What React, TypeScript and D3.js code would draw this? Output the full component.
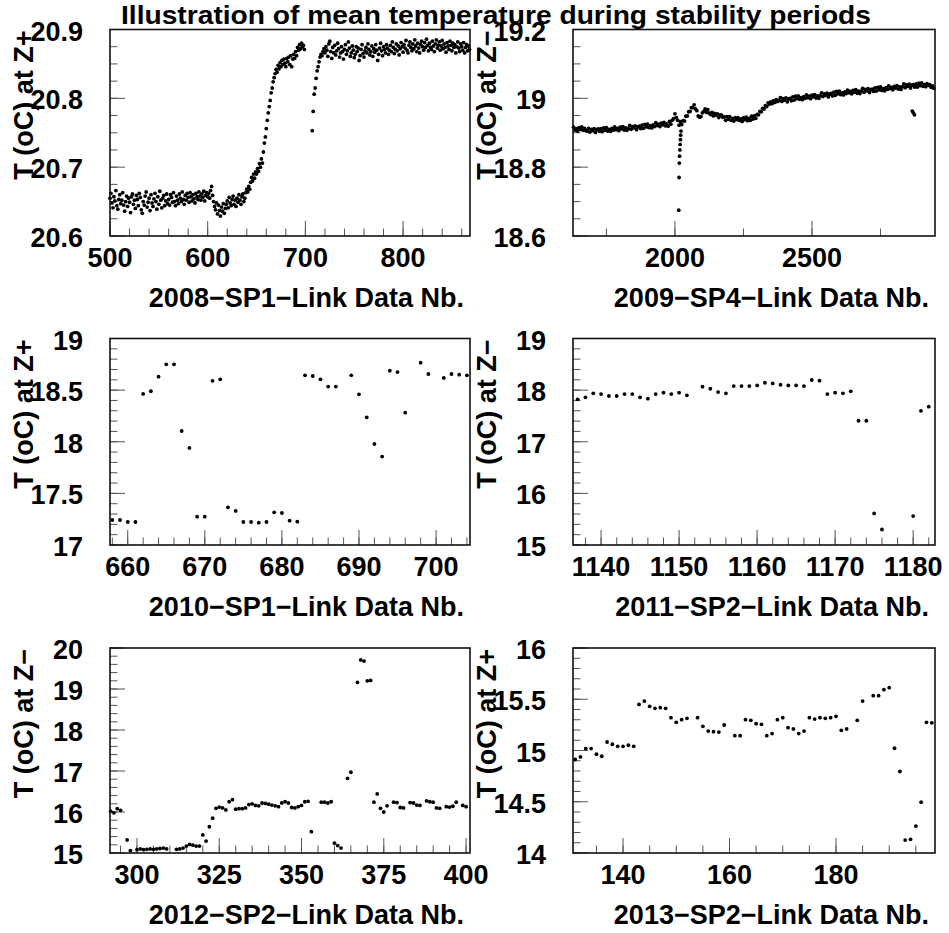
import React from 'react';
import * as d3 from 'd3';

const FONT = '"Liberation Sans", Arial, Helvetica, sans-serif';

// 2008 SP1, Z+ : one reading per link data number from 500 (null = no reading)
const sp2008Start = 500;
const sp2008Temp = [
  20.655, 20.662, 20.648, 20.641, 20.657, 20.651, 20.666, 20.644, 20.639, 20.653,
  20.660, 20.647, 20.652, 20.663, 20.645, 20.636, 20.650, 20.658, 20.643, 20.655,
  20.649, 20.634, 20.657, 20.661, 20.646, 20.652, 20.640, 20.659, 20.653, 20.644,
  20.662, 20.656, 20.638, 20.633, 20.650, 20.645, 20.658, 20.664, 20.642, 20.649,
  20.655, 20.637, 20.660, 20.648, 20.643, 20.654, 20.662, 20.650, 20.639, 20.657,
  20.646, 20.665, 20.652, 20.641, 20.655, 20.659, 20.644, 20.651, 20.661, 20.647,
  20.653, 20.645, 20.660, 20.656, 20.649, 20.663, 20.650, 20.644, 20.658, 20.652,
  20.647, 20.661, 20.655, 20.650, 20.664, 20.653, 20.646, 20.659, 20.652, 20.662,
  20.656, 20.649, 20.663, 20.657, 20.651, 20.660, 20.654, 20.648, 20.662, 20.657,
  20.653, 20.664, 20.658, 20.652, 20.661, 20.656, 20.665, 20.651, 20.659, 20.663,
  20.657, 20.662, 20.655, 20.666, 20.672, 20.659, 20.650, 20.643, 20.638, 20.648,
  20.632, 20.645, 20.637, 20.629, 20.642, 20.636, 20.647, 20.633, 20.640, 20.646,
  20.651, 20.641, 20.656, 20.648, 20.644, 20.653, 20.658, 20.646, 20.652, 20.643,
  20.655, 20.649, 20.660, 20.652, 20.646, 20.657, 20.661, 20.650, 20.655, 20.663,
  20.668, 20.664, 20.672, 20.668, 20.678, 20.685, 20.680, 20.690, 20.684, 20.693,
  20.690, 20.698, 20.694, 20.705, 20.700, 20.712, 20.706, 20.722, 20.735, 20.744,
  20.756, 20.768, 20.779, 20.788, 20.797, 20.808, 20.815, 20.824, 20.830, 20.836,
  20.842, 20.838, 20.848, 20.843, 20.852, 20.846, 20.855, 20.849, 20.857, 20.851,
  20.846, 20.858, 20.853, 20.860, 20.849, 20.862, 20.846, 20.857, 20.864, 20.858,
  20.868, 20.862, 20.874, 20.870, 20.878, 20.872, 20.880, 20.875, 20.877, 20.871,
  null, null, null, null, null, null, null,
  20.753, 20.781, 20.806, 20.815, 20.829, 20.840, 20.846, 20.853, 20.860, 20.864,
  20.862, 20.868, 20.872, 20.866, 20.875, 20.870, 20.861, 20.879, 20.883, 20.868,
  20.858, 20.874, 20.866, 20.877, 20.863, 20.869, 20.880, 20.872, 20.860, 20.866,
  20.875, 20.868, 20.857, 20.871, 20.878, 20.864, 20.869, 20.882, 20.873, 20.861,
  20.866, 20.876, 20.870, 20.859, 20.864, 20.875, 20.868, 20.873, 20.855, 20.862,
  20.871, 20.878, 20.865, 20.860, 20.869, 20.874, 20.866, 20.879, 20.871, 20.863,
  20.868, 20.876, 20.861, 20.872, 20.867, 20.878, 20.870, 20.855, 20.864, 20.873,
  20.880, 20.869, 20.862, 20.875, 20.871, 20.866, 20.878, 20.873, 20.864, 20.870,
  20.877, 20.868, 20.882, 20.874, 20.865, 20.871, 20.879, 20.869, 20.876, 20.863,
  20.872, 20.881, 20.875, 20.867, 20.878, 20.873, 20.884, 20.870, 20.866, 20.877,
  20.882, 20.874, 20.869, 20.879, 20.872, 20.885, 20.876, 20.868, 20.880, 20.873,
  20.866, 20.878, 20.883, 20.875, 20.870, 20.881, 20.874, 20.886, 20.877, 20.869,
  20.880, 20.874, 20.871, 20.883, 20.876, 20.868, 20.879, 20.885, 20.873, 20.877,
  20.882, 20.870, 20.876, 20.884, 20.872, 20.879, 20.874, 20.867, 20.881, 20.876,
  20.871, 20.883, 20.877, 20.869, 20.880, 20.874, 20.878, 20.866, 20.875, 20.882,
  20.873, 20.868, 20.879, 20.875, 20.870, 20.881, 20.866, 20.874, 20.878, 20.869,
  20.876, 20.871,
];

// 2009 SP4, Z- : readings every 5th link data number from 1630
const sp2009Start = 1630;
const sp2009Step = 5;
const sp2009Temp = [
  18.916, 18.908, 18.912, 18.905, 18.915, 18.910, 18.917, 18.907, 18.913, 18.906,
  18.905, 18.913, 18.902, 18.910, 18.906, 18.912, 18.901, 18.909, 18.911, 18.904,
  18.912, 18.903, 18.914, 18.907, 18.915, 18.905, 18.910, 18.904, 18.913, 18.908,
  18.917, 18.909, 18.913, 18.906, 18.916, 18.911, 18.918, 18.908, 18.914, 18.907,
  18.913, 18.921, 18.910, 18.918, 18.914, 18.920, 18.909, 18.917, 18.919, 18.912,
  18.922, 18.913, 18.924, 18.917, 18.925, 18.915, 18.920, 18.914, 18.923, 18.918,
  18.929, 18.921, 18.925, 18.918, 18.928, 18.923, 18.930, 18.920, 18.926, 18.919,
  18.933, 18.925, 18.936, 18.941, 18.955, 18.944, 18.936, 18.922, 18.932, 18.924,
  18.935, 18.934, 18.948, 18.949, 18.961, 18.962, 18.973, 18.973, 18.981, 18.969,
  18.964, 18.949, 18.945, 18.947, 18.958, 18.962, 18.969, 18.959, 18.967, 18.957,
  18.953, 18.959, 18.949, 18.956, 18.951, 18.955, 18.944, 18.952, 18.951, 18.945,
  18.946, 18.936, 18.947, 18.939, 18.947, 18.936, 18.941, 18.934, 18.944, 18.938,
  18.944, 18.936, 18.940, 18.933, 18.943, 18.938, 18.945, 18.935, 18.942, 18.936,
  18.948, 18.940, 18.949, 18.942, 18.953, 18.952, 18.962, 18.961, 18.971, 18.969,
  18.979, 18.976, 18.987, 18.983, 18.990, 18.985, 18.993, 18.988, 18.996, 18.991,
  18.994, 19.002, 18.991, 18.999, 18.995, 19.001, 18.990, 18.998, 19.000, 18.993,
  19.004, 18.995, 19.006, 18.999, 19.007, 18.997, 19.002, 18.996, 19.005, 19.000,
  19.010, 19.002, 19.006, 18.999, 19.009, 19.004, 19.011, 19.001, 19.007, 19.000,
  19.008, 19.016, 19.005, 19.013, 19.009, 19.015, 19.004, 19.012, 19.014, 19.007,
  19.018, 19.009, 19.020, 19.013, 19.021, 19.011, 19.016, 19.010, 19.019, 19.014,
  19.024, 19.016, 19.020, 19.013, 19.023, 19.018, 19.025, 19.015, 19.021, 19.014,
  19.021, 19.029, 19.018, 19.026, 19.022, 19.028, 19.017, 19.025, 19.027, 19.020,
  19.030, 19.021, 19.032, 19.025, 19.033, 19.023, 19.028, 19.022, 19.031, 19.026,
  19.036, 19.028, 19.032, 19.025, 19.035, 19.030, 19.037, 19.027, 19.033, 19.026,
  19.034, 19.042, 19.031, 19.039, 19.035, 19.041, 19.030, 19.038, 19.040, 19.033,
  19.042, 19.033, 19.044, 19.037, 19.045, 19.035, 19.040, 19.034, 19.043, 19.038,
  19.040, 19.032, 19.036, 19.029,
];
// the short drop just after 2000 and the small outlier streak near 2870
const sp2009ExtraNb = [2014, 2015, 2016, 2017, 2018, 2019, 2020, 2021, 2022, 2866, 2870, 2874];
const sp2009ExtraTemp = [18.675, 18.770, 18.812, 18.832, 18.850, 18.866, 18.880, 18.893, 18.905, 18.963, 18.958, 18.952];

// 2010 SP1, Z+
const sp2010Nb = [
  658, 659, 660, 661, 662, 663, 664, 665, 666, 667, 668, 669, 670, 671, 672, 673, 674, 675,
  676, 677, 678, 679, 680, 681, 682, 683, 684, 685, 686, 687, 689, 690, 691, 692, 693, 694,
  695, 696, 698, 699, 701, 702, 703, 704,
];
const sp2010Temp = [
  17.242, 17.242, 17.223, 17.223, 18.463, 18.489, 18.63, 18.75, 18.75, 18.104, 17.94, 17.274,
  17.274, 18.59, 18.605, 17.365, 17.33, 17.223, 17.223, 17.216, 17.223, 17.316, 17.31, 17.236,
  17.226, 18.643, 18.637, 18.605, 18.534, 18.534, 18.643, 18.459, 18.237, 17.978, 17.856, 18.688,
  18.675, 18.282, 18.766, 18.656, 18.618, 18.656, 18.65, 18.643,
];

// 2011 SP2, Z-
const sp2011Nb = [
  1137, 1138, 1139, 1140, 1141, 1142, 1143, 1144, 1145, 1146, 1147, 1148, 1149, 1150, 1151,
  1153, 1154, 1155, 1156, 1157, 1158, 1159, 1160, 1161, 1162, 1163, 1164, 1165, 1166, 1167,
  1168, 1169, 1170, 1171, 1172, 1173, 1174, 1175, 1176, 1180, 1181, 1182,
];
const sp2011Temp = [
  17.822, 17.86, 17.938, 17.924, 17.886, 17.886, 17.924, 17.924, 17.86, 17.834, 17.924, 17.95,
  17.924, 17.95, 17.9, 18.066, 18.027, 17.963, 17.938, 18.079, 18.079, 18.079, 18.092, 18.143,
  18.13, 18.104, 18.092, 18.092, 18.079, 18.196, 18.183, 17.924, 17.95, 17.938, 17.976, 17.407,
  17.407, 15.612, 15.3, 15.56, 17.6, 17.68,
];

// 2012 SP2, Z-
const sp2012Nb = [
  292, 293, 294, 295, 297, 298, 300, 301, 302, 303, 304, 305, 306, 307, 308, 309, 312, 313,
  314, 315, 316, 317, 318, 319, 320, 321, 322, 323, 324, 325, 326, 327, 328, 329, 330, 331,
  332, 333, 334, 335, 336, 337, 338, 339, 340, 341, 342, 343, 344, 345, 346, 347, 348, 349,
  350, 351, 352, 353, 356, 357, 358, 359, 360, 361, 362, 364, 365, 367, 368, 369, 370, 371,
  372, 373, 374, 375, 376, 378, 379, 380, 381, 383, 384, 385, 386, 388, 389, 390, 391, 392,
  394, 395, 396, 397, 399, 400,
];
const sp2012Temp = [
  16.02, 15.98, 16.08, 16.04, 15.32, 15.06, 15.08, 15.1, 15.08, 15.09, 15.1, 15.09,
  15.1, 15.11, 15.12, 15.1, 15.09, 15.1, 15.12, 15.17, 15.21, 15.19, 15.17, 15.17,
  15.44, 15.29, 15.64, 15.85, 16.09, 16.12, 16.1, 16.05, 16.25, 16.3, 16.07, 16.08,
  16.08, 16.1, 16.18, 16.2, 16.16, 16.15, 16.22, 16.21, 16.19, 16.17, 16.15, 16.13,
  16.22, 16.25, 16.22, 16.11, 16.1, 16.13, 16.16, 16.25, 16.26, 15.52, 16.24, 16.24,
  16.22, 16.25, 15.24, 15.18, 15.12, 16.82, 16.97, 19.16, 19.71, 19.68, 19.2, 19.21,
  16.24, 16.44, 16.09, 16.0, 16.15, 16.24, 16.23, 16.11, 16.1, 16.23, 16.22, 16.17,
  16.16, 16.27, 16.25, 16.24, 16.1, 16.09, 16.13, 16.12, 16.14, 16.24, 16.16, 16.13,
];

// 2013 SP2, Z+
const sp2013Nb = [
  131, 132, 133, 134, 135, 136, 137, 138, 139, 140, 141, 142, 143, 144, 145, 146, 147, 148,
  149, 150, 151, 152, 154, 155, 156, 157, 158, 159, 161, 162, 163, 164, 165, 166, 167, 168,
  169, 170, 171, 172, 173, 174, 175, 176, 177, 178, 179, 180, 181, 182, 184, 185, 187, 188,
  189, 190, 191, 192, 193, 194, 195, 196, 197, 198,
];
const sp2013Temp = [
  14.912, 14.937, 15.019, 15.019, 14.964, 14.944, 15.083, 15.061, 15.041, 15.041, 15.051, 15.041,
  15.45, 15.482, 15.431, 15.411, 15.418, 15.411, 15.32, 15.275, 15.301, 15.314, 15.32, 15.236,
  15.19, 15.184, 15.18, 15.249, 15.145, 15.145, 15.301, 15.294, 15.262, 15.255, 15.145, 15.165,
  15.301, 15.32, 15.223, 15.21, 15.165, 15.19, 15.32, 15.307, 15.32, 15.314, 15.32, 15.333,
  15.197, 15.21, 15.294, 15.482, 15.535, 15.535, 15.593, 15.613, 15.022, 14.795, 14.126, 14.133,
  14.263, 14.496, 15.275, 15.27,
];

// axis tick values (major) per panel
const ticks2008X = [500, 600, 700, 800];
const ticks2008Y = [20.6, 20.7, 20.8, 20.9];
const ticks2009X = [2000, 2500];
const ticks2009Y = [18.6, 18.8, 19, 19.2];
const ticks2010X = [660, 670, 680, 690, 700];
const ticks2010Y = [17, 17.5, 18, 18.5, 19];
const ticks2011X = [1140, 1150, 1160, 1170, 1180];
const ticks2011Y = [15, 16, 17, 18, 19];
const ticks2012X = [300, 325, 350, 375, 400];
const ticks2012Y = [15, 16, 17, 18, 19, 20];
const ticks2013X = [140, 160, 180];
const ticks2013Y = [14, 14.5, 15, 15.5, 16];

const colBox = [[110, 470], [573, 935]];
const rowBox = [[29.5, 236], [338.5, 545], [648, 853]];

const zip = (xs: number[], ys: number[]) => xs.map((v, i) => [v, ys[i]] as [number, number]);

const panels = [
  {
    col: 0, row: 0, xTitle: '2008−SP1−Link Data Nb.', yTitle: 'T (oC) at Z+',
    xDomain: [500, 868.5], yDomain: [20.6, 20.9],
    xTicks: ticks2008X, xMinor: 20, yTicks: ticks2008Y, yMinor: 0.025,
    points: sp2008Temp
      .map((v, i) => (v == null ? null : ([sp2008Start + i, v] as [number, number])))
      .filter((d) => d != null) as [number, number][],
  },
  {
    col: 1, row: 0, xTitle: '2009−SP4−Link Data Nb.', yTitle: 'T (oC) at Z−',
    xDomain: [1628, 2949], yDomain: [18.6, 19.2],
    xTicks: ticks2009X, xMinor: 250, yTicks: ticks2009Y, yMinor: 0.05,
    points: sp2009Temp
      .map((v, i) => [sp2009Start + i * sp2009Step, v] as [number, number])
      .concat(zip(sp2009ExtraNb, sp2009ExtraTemp)),
  },
  {
    col: 0, row: 1, xTitle: '2010−SP1−Link Data Nb.', yTitle: 'T (oC) at Z+',
    xDomain: [657.7, 704.4], yDomain: [17, 19],
    xTicks: ticks2010X, xMinor: 2, yTicks: ticks2010Y, yMinor: 0.1,
    points: zip(sp2010Nb, sp2010Temp),
  },
  {
    col: 1, row: 1, xTitle: '2011−SP2−Link Data Nb.', yTitle: 'T (oC) at Z−',
    xDomain: [1136.4, 1182.8], yDomain: [15, 19],
    xTicks: ticks2011X, xMinor: 2, yTicks: ticks2011Y, yMinor: 0.2,
    points: zip(sp2011Nb, sp2011Temp),
  },
  {
    col: 0, row: 2, xTitle: '2012−SP2−Link Data Nb.', yTitle: 'T (oC) at Z−',
    xDomain: [291.8, 401.2], yDomain: [15, 20],
    xTicks: ticks2012X, xMinor: 5, yTicks: ticks2012Y, yMinor: 0.2,
    points: zip(sp2012Nb, sp2012Temp),
  },
  {
    col: 1, row: 2, xTitle: '2013−SP2−Link Data Nb.', yTitle: 'T (oC) at Z+',
    xDomain: [130.6, 198.6], yDomain: [14, 16],
    xTicks: ticks2013X, xMinor: 5, yTicks: ticks2013Y, yMinor: 0.1,
    points: zip(sp2013Nb, sp2013Temp),
  },
];

const fmt = d3.format('~g');

function minorTicks(domain: number[], step: number) {
  const a = Math.ceil(domain[0] / step - 1e-9);
  const b = Math.floor(domain[1] / step + 1e-9);
  return d3.range(a, b + 1).map((k) => +(k * step).toFixed(6));
}

function Panel({ p }: { p: any }) {
  const [x0, x1] = colBox[p.col];
  const [y0, y1] = rowBox[p.row];
  const x = d3.scaleLinear().domain(p.xDomain).range([x0, x1]);
  const y = d3.scaleLinear().domain(p.yDomain).range([y1, y0]);
  const pts = p.points.filter(
    (d: [number, number]) =>
      d[0] >= p.xDomain[0] && d[0] <= p.xDomain[1] && d[1] >= p.yDomain[0] && d[1] <= p.yDomain[1]
  );
  const text = { fontFamily: FONT, fontWeight: 'bold' as const, fontSize: 27, fill: '#000' };

  return (
    <g>
      <rect x={x0} y={y0} width={x1 - x0} height={y1 - y0} fill="#fff" />
      {minorTicks(p.xDomain, p.xMinor).map((v) => (
        <line key={'xm' + v} x1={x(v)} x2={x(v)} y1={y1} y2={y1 - 7.5} stroke="#555" strokeWidth={1} />
      ))}
      {p.xTicks.map((v: number) => (
        <line key={'xt' + v} x1={x(v)} x2={x(v)} y1={y1} y2={y1 - 15} stroke="#555" strokeWidth={1} />
      ))}
      {minorTicks(p.yDomain, p.yMinor).map((v) => (
        <line key={'ym' + v} x1={x0} x2={x0 + 7.5} y1={y(v)} y2={y(v)} stroke="#555" strokeWidth={1} />
      ))}
      {p.yTicks.map((v: number) => (
        <line key={'yt' + v} x1={x0} x2={x0 + 15} y1={y(v)} y2={y(v)} stroke="#555" strokeWidth={1} />
      ))}
      {pts.map((d: [number, number], i: number) => (
        <circle key={i} cx={x(d[0])} cy={y(d[1])} r={1.9} fill="#000" />
      ))}
      <rect x={x0} y={y0} width={x1 - x0} height={y1 - y0} fill="none" stroke="#111" strokeWidth={1.6} />
      {p.xTicks.map((v: number) => (
        <text key={'xl' + v} x={x(v)} y={y1 + 31} textAnchor="middle" {...text}>
          {fmt(v)}
        </text>
      ))}
      {p.yTicks.map((v: number) => (
        <text key={'yl' + v} x={x0 - 27} y={y(v) + 11} textAnchor="end" {...text}>
          {fmt(v)}
        </text>
      ))}
      <text x={x1 - 6} y={y1 + 71} textAnchor="end" {...text}>
        {p.xTitle}
      </text>
      <text
        transform={`translate(${x0 - 77},${y0 + 1}) rotate(-90)`}
        textAnchor="end"
        {...text}
      >
        {p.yTitle}
      </text>
    </g>
  );
}

export default function App() {
  return (
    <svg
      width={949}
      height={933}
      style={{ position: 'absolute', left: 0, top: 0, background: '#fff' }}
    >
      <rect width={949} height={933} fill="#fff" />
      {panels.map((p, i) => (
        <Panel key={i} p={p} />
      ))}
      <text
        x={496}
        y={24}
        textAnchor="middle"
        fontFamily={FONT}
        fontWeight="bold"
        fontSize={26}
        textLength={750}
        lengthAdjust="spacingAndGlyphs"
      >
        Illustration of mean temperature during stability periods
      </text>
    </svg>
  );
}
